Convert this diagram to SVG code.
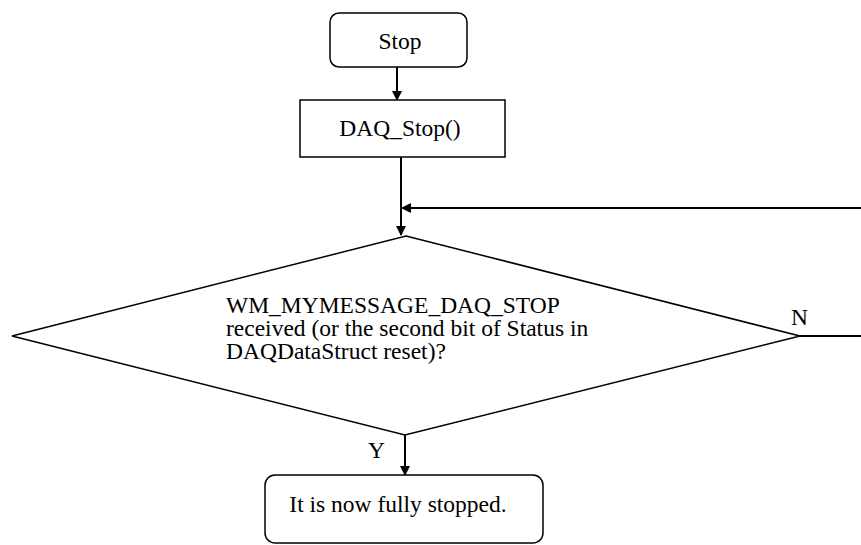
<svg xmlns="http://www.w3.org/2000/svg" width="861" height="545" viewBox="0 0 861 545">
<style>
.node{fill:#fff;stroke:#000;stroke-width:1.5}
.t{font-family:"Liberation Serif","Times New Roman","DejaVu Serif",serif;font-size:23.5px;fill:#000}
.c{text-anchor:middle}
.conn{stroke:#000;stroke-width:2;fill:none}
</style>
<defs>
<marker id="ah" markerWidth="10" markerHeight="10" refX="9" refY="5" orient="auto" markerUnits="userSpaceOnUse">
<path d="M0,0 L10,5 L0,10 Z" fill="#000"/>
</marker>
</defs>
<rect width="861" height="545" fill="#fff"/>
<g id="connectors">
<line class="conn" x1="397" y1="67" x2="397" y2="100" marker-end="url(#ah)"/>
<line class="conn" x1="401" y1="157" x2="401" y2="235" marker-end="url(#ah)"/>
<line class="conn" x1="861" y1="208" x2="402" y2="208" marker-end="url(#ah)"/>
<line class="conn" x1="800" y1="336" x2="861" y2="336"/>
<line class="conn" x1="405" y1="435" x2="405" y2="475" marker-end="url(#ah)"/>
<text class="t" x="791" y="325">N</text>
<text class="t" x="368" y="458">Y</text>
</g>
<g id="stop">
<rect class="node" x="330" y="13" width="137" height="54" rx="9"/>
<text class="t c" x="400" y="49">Stop</text>
</g>
<g id="daq_stop">
<rect class="node" x="300" y="100" width="205" height="57"/>
<text class="t c" x="400" y="136">DAQ_Stop()</text>
</g>
<g id="decision">
<polygon class="node" points="406,236 800,336 405,435 12,336"/>
<text class="t" x="226" y="313">WM_MYMESSAGE_DAQ_STOP</text>
<text class="t" x="226" y="336">received (or the second bit of Status in</text>
<text class="t" x="226" y="359">DAQDataStruct reset)?</text>
</g>
<g id="stopped">
<rect class="node" x="265" y="475" width="278" height="68" rx="10"/>
<text class="t c" x="398" y="512">It is now fully stopped.</text>
</g>
</svg>
